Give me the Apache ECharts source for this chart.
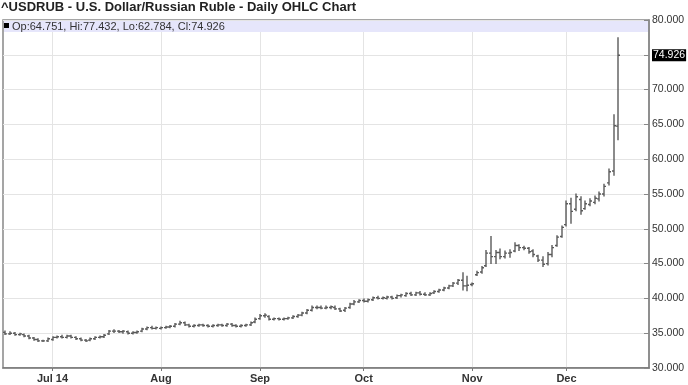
<!DOCTYPE html>
<html><head><meta charset="utf-8">
<script src="https://cdn.jsdelivr.net/npm/echarts@6/dist/echarts.min.js"></script>
<style>html,body{margin:0;padding:0;background:#fff}#c{width:688px;height:385px}</style>
</head><body><div id="c"></div>
<script>
// Trading days per month (2014)
const tradingDays = [
  ['06', [17,18,19,20,23,24,25,26,27,30]],
  ['07', [1,2,3,4,7,8,9,10,11,14,15,16,17,18,21,22,23,24,25,28,29,30,31]],
  ['08', [1,4,5,6,7,8,11,12,13,14,15,18,19,20,21,22,25,26,27,28,29]],
  ['09', [1,2,3,4,5,8,9,10,11,12,15,16,17,18,19,22,23,24,25,26,29,30]],
  ['10', [1,2,3,6,7,8,9,10,13,14,15,16,17,20,21,22,23,24,27,28,29,30,31]],
  ['11', [3,4,5,6,7,10,11,12,13,14,17,18,19,20,21,24,25,26,27,28]],
  ['12', [1,2,3,4,5,8,9,10,11,12,15,16]]
];
const emptyDays = ['2014-12-17','2014-12-18','2014-12-19','2014-12-22','2014-12-23','2014-12-24'];
const monthLabels = {'2014-07-01':'Jul 14','2014-08-01':'Aug','2014-09-01':'Sep','2014-10-01':'Oct','2014-11-03':'Nov','2014-12-01':'Dec'};
const yTicks = {min: 30, max: 80, step: 5};

const open = [35.1,34.9,35.0,34.8,34.8,34.6,34.3,34.1,33.9,33.9,
 34.1,34.4,34.5,34.4,34.6,34.4,34.2,34.0,34.0,34.2,34.4,34.5,34.9,35.3,35.3,35.2,35.2,35.0,35.1,35.3,35.6,35.8,35.7,
 35.7,35.8,35.9,36.0,36.3,36.5,36.2,36.0,36.1,36.2,36.1,36.0,36.1,36.2,36.1,36.3,36.1,36.0,36.1,36.2,36.6,
 37.1,37.5,37.4,37.0,37.1,37.0,37.1,37.2,37.4,37.6,37.9,38.3,38.7,38.7,38.6,38.7,38.7,38.5,38.3,38.7,39.2,39.5,
 39.7,39.6,39.8,40.1,40.0,40.0,40.2,40.1,40.4,40.4,40.7,40.5,40.8,40.6,40.5,40.8,41.0,41.2,41.5,41.8,42.2,42.6,41.8,
 42.0,43.4,43.8,44.7,46.5,46.0,46.6,46.0,46.5,46.8,47.6,47.3,47.2,46.8,46.1,45.5,45.0,46.3,47.6,48.9,
 50.6,53.6,52.8,54.2,52.9,53.5,53.8,54.3,55.0,56.6,58.3,64.751];
const high = [35.3,35.2,35.1,35.0,34.9,34.7,34.4,34.2,34.0,34.3,
 34.5,34.6,34.7,34.7,34.7,34.5,34.3,34.1,34.3,34.5,34.6,34.8,35.4,35.5,35.4,35.4,35.3,35.2,35.3,35.7,35.9,36.0,35.9,
 35.9,36.0,36.1,36.4,36.7,36.6,36.3,36.2,36.3,36.3,36.2,36.2,36.3,36.3,36.4,36.4,36.2,36.2,36.3,36.6,37.2,
 37.7,37.8,37.5,37.2,37.2,37.2,37.3,37.5,37.7,38.0,38.4,38.9,38.9,38.9,38.9,38.9,38.9,38.6,38.7,39.3,39.7,39.8,
 39.9,39.9,40.2,40.3,40.2,40.3,40.3,40.5,40.6,40.8,40.9,40.9,41.0,40.8,40.8,41.1,41.3,41.6,41.9,42.3,42.7,43.7,43.2,
 42.2,43.9,44.6,46.9,48.9,46.9,47.1,46.8,47.0,48.0,47.7,47.5,47.3,47.0,46.2,46.0,46.6,47.6,49.0,50.4,
 54.0,54.4,55.0,54.6,54.0,54.3,54.7,55.3,56.4,58.6,66.4,77.432];
const low = [34.8,34.8,34.7,34.7,34.5,34.2,34.0,33.8,33.8,33.8,
 34.0,34.3,34.3,34.3,34.3,34.1,33.9,33.8,33.9,34.1,34.3,34.4,34.8,35.1,35.1,35.0,34.9,34.9,35.0,35.2,35.5,35.6,35.6,
 35.6,35.7,35.8,35.9,36.2,36.1,35.9,35.9,36.0,36.0,35.9,35.9,36.0,36.0,36.0,36.0,35.9,35.9,36.0,36.1,36.5,
 37.0,37.3,36.9,36.9,36.9,36.9,37.0,37.1,37.3,37.5,37.8,38.2,38.5,38.5,38.5,38.5,38.4,38.1,38.1,38.6,39.1,39.4,
 39.5,39.5,39.7,39.9,39.9,39.9,39.9,40.0,40.2,40.3,40.4,40.4,40.5,40.4,40.4,40.7,40.9,41.1,41.4,41.7,42.0,41.2,41.1,
 41.8,43.3,43.6,44.6,45.0,45.0,45.7,45.8,45.9,46.7,46.9,47.0,46.5,46.0,45.3,44.6,44.8,46.0,47.5,48.8,
 50.4,50.8,52.6,52.1,52.8,53.3,53.6,54.0,54.7,56.3,57.7,62.784];
const close = [34.9,35.0,34.8,34.9,34.6,34.3,34.1,33.9,33.9,34.2,
 34.4,34.5,34.4,34.6,34.4,34.2,34.0,33.9,34.2,34.4,34.5,34.7,35.3,35.3,35.2,35.3,35.0,35.1,35.2,35.6,35.8,35.7,35.8,
 35.8,35.9,36.0,36.3,36.5,36.2,36.0,36.1,36.2,36.1,36.0,36.1,36.2,36.1,36.3,36.1,36.0,36.1,36.2,36.5,37.0,
 37.5,37.6,37.0,37.1,37.0,37.1,37.2,37.4,37.6,37.9,38.3,38.7,38.7,38.6,38.7,38.8,38.5,38.2,38.6,39.2,39.5,39.7,
 39.6,39.8,40.1,40.0,40.1,40.2,40.0,40.4,40.5,40.7,40.5,40.8,40.6,40.5,40.7,41.0,41.2,41.5,41.8,42.2,42.6,41.8,41.9,
 42.1,43.7,44.4,46.5,46.0,46.6,46.0,46.5,46.6,47.6,47.3,47.2,46.7,46.3,45.5,44.9,46.3,47.3,48.8,50.2,
 53.6,52.5,54.6,52.6,53.6,54.0,54.4,55.0,56.1,58.2,64.8,74.926];

const dates = [];
tradingDays.forEach(([m, days]) => days.forEach(d => dates.push('2014-' + m + '-' + String(d).padStart(2,'0'))));
const categories = dates.concat(emptyDays);
const ohlc = dates.map((d, i) => [i, open[i], high[i], low[i], close[i]]);
const last = ohlc[ohlc.length - 1];

const isMonthStart = (idx) => monthLabels.hasOwnProperty(categories[idx]);
const FONT = "'Liberation Sans', Arial, sans-serif";
const barColor = '#5a5a5a';

const chart = echarts.init(document.getElementById('c'), null, {renderer: 'canvas'});
chart.setOption({
  animation: false,
  backgroundColor: '#fff',
  title: {
    text: '^USDRUB - U.S. Dollar/Russian Ruble - Daily OHLC Chart',
    left: 1, top: 1, padding: 0,
    textStyle: {fontFamily: FONT, fontSize: 13, fontWeight: 'bold', color: '#222'}
  },
  grid: {left: 3, right: 39, top: 20, bottom: 17, show: true, borderColor: '#888', borderWidth: 1.5, backgroundColor: 'transparent'},
  graphic: [
    {type: 'rect', left: 4, top: 21, z: 1, shape: {width: 644, height: 11}, style: {fill: '#e6e6fb'}},
    {type: 'rect', left: 4, top: 23, z: 2, shape: {width: 5, height: 5}, style: {fill: '#000'}},
    {type: 'text', left: 12, top: 21, z: 2, style: {
      text: 'Op:' + last[1].toFixed(3) + ', Hi:' + last[2].toFixed(3) + ', Lo:' + last[3].toFixed(3) + ', Cl:' + last[4].toFixed(3),
      fontFamily: FONT, fontSize: 11, fill: '#333'}}
  ],
  xAxis: {
    type: 'category', data: categories, boundaryGap: true,
    axisLine: {show: true, lineStyle: {color: '#777', width: 1.5}},
    axisTick: {show: true, interval: isMonthStart, alignWithLabel: true, length: 3, lineStyle: {color: '#777'}},
    splitLine: {show: true, interval: isMonthStart, alignWithLabel: true, lineStyle: {color: '#e4e4e4', width: 1}},
    axisLabel: {interval: isMonthStart, margin: 5, formatter: v => monthLabels[v] || '',
      fontFamily: FONT, fontSize: 11, fontWeight: 'bold', color: '#333'}
  },
  yAxis: {
    type: 'value', position: 'right', min: yTicks.min, max: yTicks.max, interval: yTicks.step,
    axisLine: {show: true, lineStyle: {color: '#888', width: 1.5}},
    axisTick: {show: true, inside: true, length: 5, lineStyle: {color: '#888'}},
    splitLine: {show: true, lineStyle: {color: '#e4e4e4', width: 1}},
    axisLabel: {margin: 3, formatter: v => v.toFixed(3), fontFamily: FONT, fontSize: 10.5, color: '#333'}
  },
  series: [{
    type: 'custom',
    data: ohlc,
    encode: {x: 0, y: [1, 2, 3, 4]},
    z: 3,
    renderItem: function (params, api) {
      const i = api.value(0);
      const o = api.coord([i, api.value(1)]);
      const h = api.coord([i, api.value(2)]);
      const l = api.coord([i, api.value(3)]);
      const c = api.coord([i, api.value(4)]);
      const st = {stroke: barColor, lineWidth: 1.4};
      const cx = Math.round(o[0]);
      return {type: 'group', children: [
        {type: 'line', shape: {x1: cx, y1: h[1] - 0.5, x2: cx, y2: l[1] + 0.5}, style: st},
        {type: 'line', shape: {x1: cx - 2, y1: o[1], x2: cx, y2: o[1]}, style: st},
        {type: 'line', shape: {x1: cx, y1: c[1], x2: cx + 2, y2: c[1]}, style: st}
      ]};
    },
    markLine: {
      silent: true, symbol: ['none', 'none'], animation: false,
      lineStyle: {color: 'rgba(0,0,0,0)', width: 1, type: 'solid'},
      data: [{yAxis: last[4]}],
      label: {show: true, position: 'end', distance: 3, formatter: () => last[4].toFixed(3),
        backgroundColor: '#000', color: '#fff', fontFamily: FONT, fontSize: 10.5, padding: [1, 1, 0, 1]}
    }
  }]
});
</script></body></html>
